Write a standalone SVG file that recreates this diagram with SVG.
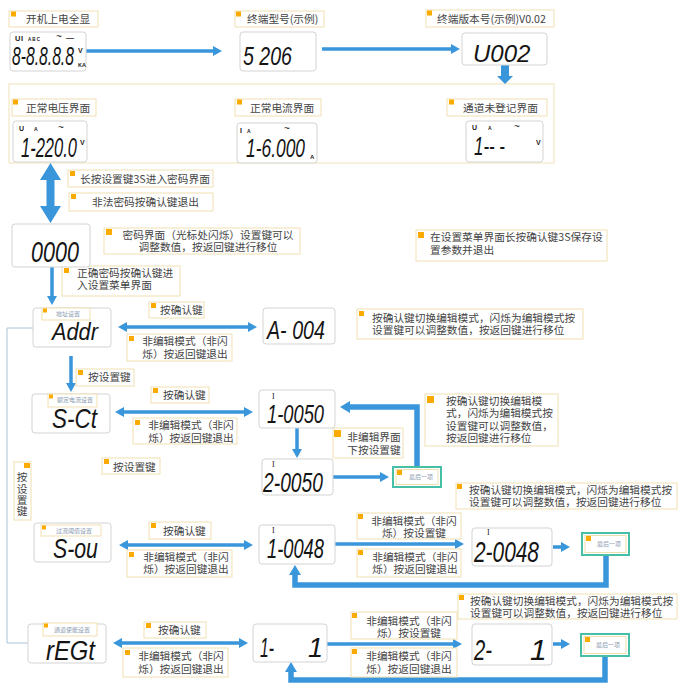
<svg xmlns="http://www.w3.org/2000/svg" width="678" height="684" viewBox="0 0 678 684">
<style>
.lb{fill:#fff;stroke:#efdfb0;stroke-width:1}
.sq{fill:#fbab00}
.dp{fill:#fff;stroke:#d3d3d3;stroke-width:1}
.fr{fill:none;stroke:#f0e2b8;stroke-width:1}
.t{font-family:"Noto Sans CJK SC","Liberation Sans",sans-serif;font-size:10.7px;fill:#444}
.tm{text-anchor:middle}
.vt{writing-mode:vertical-rl;letter-spacing:0.6px}
.tiny{font-family:"Noto Sans CJK SC",sans-serif;font-size:6px;fill:#8a9bb0;text-anchor:middle}
.lcd{font-family:"Liberation Sans",Arial,sans-serif;font-style:italic;fill:#151515}
.ann{font-family:"Liberation Sans",Arial,sans-serif;font-weight:bold;fill:#222}
.til{font-family:"Liberation Sans",Arial,sans-serif;fill:#222}
.ser{font-family:"Liberation Serif",serif;font-size:8px;fill:#222}
.ar{stroke:#3a96db;stroke-width:3.5;fill:none}
.arL{stroke:#3a96db;stroke-width:5.5;fill:none}
.fa{fill:#3a96db}
.br{stroke:#aac3d8;stroke-width:1;fill:none}
.tl{fill:#fff;stroke:#47bfa6;stroke-width:2}
</style>
<defs>
<marker id="ah" viewBox="0 0 9 10" refX="2" refY="5" markerWidth="9" markerHeight="10" markerUnits="userSpaceOnUse" orient="auto-start-reverse"><path d="M0,0 L9,5 L0,10 z" fill="#3a96db"/></marker>
<marker id="ahL" viewBox="0 0 10 12" refX="2" refY="6" markerWidth="10" markerHeight="12" markerUnits="userSpaceOnUse" orient="auto"><path d="M0,0 L10,6 L0,12 z" fill="#3a96db"/></marker>
</defs>
<rect width="678" height="684" fill="#fff"/>

<rect class="fr" x="9" y="84" width="545" height="79"/>

<g id="connectors">
<line class="ar" x1="86" y1="51" x2="215" y2="51" marker-end="url(#ah)"/>
<line class="ar" x1="322" y1="49" x2="453" y2="49" marker-end="url(#ah)"/>
<polygon class="fa" points="501,65 509,65 509,76 513,76 505,84 497,76 501,76"/>
<polygon class="fa" points="50.5,163 61,180 54.5,180 54.5,206 61,206 50.5,223 40,206 46.5,206 46.5,180 40,180"/>
<line class="ar" x1="52" y1="267" x2="52" y2="298" marker-end="url(#ah)"/>
<line class="ar" x1="125" y1="327" x2="250" y2="327" marker-start="url(#ah)" marker-end="url(#ah)"/>
<line class="ar" x1="71" y1="356" x2="71" y2="385" marker-end="url(#ah)"/>
<line class="ar" x1="122" y1="412" x2="246" y2="412" marker-start="url(#ah)" marker-end="url(#ah)"/>
<line class="ar" x1="297" y1="428" x2="297" y2="451" marker-end="url(#ah)"/>
<polyline class="arL" points="417,467 417,407 348,407" marker-end="url(#ahL)"/>
<line class="ar" x1="333" y1="477" x2="382" y2="477" marker-end="url(#ah)"/>
<line class="ar" x1="126" y1="545" x2="246" y2="545" marker-start="url(#ah)" marker-end="url(#ah)"/>
<line class="ar" x1="335" y1="544" x2="457" y2="544" marker-end="url(#ah)"/>
<line class="ar" x1="553" y1="547" x2="563" y2="547" marker-end="url(#ah)"/>
<polyline class="arL" points="606,555 606,585 295,585 295,573" marker-end="url(#ahL)"/>
<line class="ar" x1="120" y1="643" x2="241" y2="643" marker-start="url(#ah)" marker-end="url(#ah)"/>
<line class="ar" x1="327" y1="644" x2="455" y2="644" marker-end="url(#ah)"/>
<line class="ar" x1="553" y1="644" x2="563" y2="644" marker-end="url(#ah)"/>
<polyline class="arL" points="605,656 605,680 291,680 291,670" marker-end="url(#ahL)"/>
<polyline class="br" points="33,328 7,328 7,643 28,643"/>
</g>

<g id="lbl-poweron"><rect class="lb" x="9" y="11" width="89" height="16"/><rect class="sq" x="11" y="11.5" width="5" height="5"/><text class="t" x="26" y="23">开机上电全显</text></g>
<g id="lbl-model"><rect class="lb" x="235" y="11" width="89" height="16"/><rect class="sq" x="236" y="11.5" width="5" height="5"/><text class="t" x="247" y="23">终端型号(示例)</text></g>
<g id="lbl-version"><rect class="lb" x="426" y="10" width="128" height="17"/><rect class="sq" x="427" y="10.5" width="5" height="5"/><text class="t" x="437" y="23">终端版本号(示例)V0.02</text></g>
<g id="lbl-volt"><rect class="lb" x="12" y="99" width="84" height="17"/><rect class="sq" x="13" y="99.5" width="5" height="5"/><text class="t" x="26" y="112">正常电压界面</text></g>
<g id="lbl-curr"><rect class="lb" x="235" y="99" width="86" height="17"/><rect class="sq" x="237" y="99.5" width="5" height="5"/><text class="t" x="250" y="112">正常电流界面</text></g>
<g id="lbl-unreg"><rect class="lb" x="447" y="99" width="100" height="17"/><rect class="sq" x="449" y="99.5" width="5" height="5"/><text class="t" x="463" y="112">通道未登记界面</text></g>
<g id="lbl-longpress"><rect class="lb" x="68" y="170" width="145" height="17"/><rect class="sq" x="70" y="171" width="5" height="5"/><text class="t" x="80" y="183">长按设置键3S进入密码界面</text></g>
<g id="lbl-illegal"><rect class="lb" x="69" y="193" width="144" height="18"/><rect class="sq" x="71" y="194" width="5" height="5"/><text class="t" x="92" y="206">非法密码按确认键退出</text></g>
<g id="lbl-pwd"><rect class="lb" x="104" y="228" width="196" height="26"/><rect class="sq" x="106" y="229" width="6" height="6"/><text class="t tm" x="208" y="239">密码界面（光标处闪烁）设置键可以</text><text class="t tm" x="208" y="251">调整数值，按返回键进行移位</text></g>
<g id="lbl-correct"><rect class="lb" x="62" y="266" width="118" height="30"/><rect class="sq" x="64" y="268" width="5" height="5"/><text class="t" x="77" y="277">正确密码按确认键进</text><text class="t" x="77" y="289">入设置菜单界面</text></g>
<g id="lbl-save"><rect class="lb" x="416" y="230" width="191" height="31"/><rect class="sq" x="418" y="232" width="6" height="6"/><text class="t" x="430" y="241">在设置菜单界面长按确认键3S保存设</text><text class="t" x="430" y="254">置参数并退出</text></g>

<g id="lbl-ok1"><rect class="lb" x="149" y="302" width="55" height="16"/><rect class="sq" x="151" y="303" width="5" height="5"/><text class="t" x="160" y="314">按确认键</text></g>
<g id="lbl-back1"><rect class="lb" x="127" y="334" width="105" height="27"/><rect class="sq" x="129" y="336" width="5" height="5"/><text class="t tm" x="185" y="345">非编辑模式（非闪</text><text class="t tm" x="185" y="358">烁）按返回键退出</text></g>
<g id="lbl-edit1"><rect class="lb" x="357" y="309" width="226" height="30"/><rect class="sq" x="359" y="311" width="5" height="5"/><text class="t" x="372" y="322">按确认键切换编辑模式，闪烁为编辑模式按</text><text class="t" x="372" y="334">设置键可以调整数值，按返回键进行移位</text></g>
<g id="lbl-set1"><rect class="lb" x="76" y="369" width="58" height="17"/><rect class="sq" x="78" y="370" width="5" height="5"/><text class="t" x="88" y="381">按设置键</text></g>
<g id="lbl-ok2"><rect class="lb" x="151" y="387" width="58" height="16"/><rect class="sq" x="153" y="388" width="5" height="5"/><text class="t" x="163" y="399">按确认键</text></g>
<g id="lbl-back2"><rect class="lb" x="133" y="418" width="104" height="26"/><rect class="sq" x="135" y="420" width="5" height="5"/><text class="t tm" x="191" y="429">非编辑模式（非闪</text><text class="t tm" x="191" y="442">烁）按返回键退出</text></g>
<g id="lbl-edit2"><rect class="lb" x="425" y="394" width="133" height="52"/><rect class="sq" x="427" y="396" width="7" height="7"/><text class="t" x="446" y="405">按确认键切换编辑模</text><text class="t" x="446" y="417">式，闪烁为编辑模式按</text><text class="t" x="446" y="430">设置键可以调整数值，</text><text class="t" x="446" y="442">按返回键进行移位</text></g>
<g id="lbl-nonedit"><rect class="lb" x="333" y="428" width="70" height="30"/><rect class="sq" x="334" y="430" width="7" height="7"/><text class="t tm" x="374" y="441">非编辑界面</text><text class="t tm" x="374" y="454">下按设置键</text></g>
<g id="lbl-set2"><rect class="lb" x="102" y="458" width="58" height="16"/><rect class="sq" x="104" y="459" width="5" height="5"/><text class="t" x="113" y="471">按设置键</text></g>
<g id="lbl-set-vert"><rect class="lb" x="14" y="462" width="17" height="58"/><rect class="sq" x="24" y="463" width="6" height="5"/><text class="t vt" x="22" y="472">按设置键</text></g>
<g id="lbl-edit3"><rect class="lb" x="456" y="483" width="221" height="26"/><rect class="sq" x="457" y="484" width="5" height="5"/><text class="t" x="469" y="494">按确认键切换编辑模式，闪烁为编辑模式按</text><text class="t" x="469" y="506">设置键可以调整数值，按返回键进行移位</text></g>
<g id="lbl-ok3"><rect class="lb" x="149" y="522" width="62" height="17"/><rect class="sq" x="151" y="523" width="5" height="5"/><text class="t" x="163" y="535">按确认键</text></g>
<g id="lbl-back3"><rect class="lb" x="127" y="550" width="105" height="27"/><rect class="sq" x="129" y="552" width="5" height="5"/><text class="t tm" x="186" y="561">非编辑模式（非闪</text><text class="t tm" x="186" y="573">烁）按返回键退出</text></g>
<g id="lbl-next3"><rect class="lb" x="357" y="513" width="104" height="26"/><rect class="sq" x="358" y="514" width="5" height="5"/><text class="t tm" x="414" y="525">非编辑模式（非闪</text><text class="t tm" x="414" y="537">烁）按设置键</text></g>
<g id="lbl-back3b"><rect class="lb" x="357" y="549" width="104" height="28"/><rect class="sq" x="358" y="550" width="5" height="5"/><text class="t tm" x="415" y="561">非编辑模式（非闪</text><text class="t tm" x="415" y="573">烁）按返回键退出</text></g>
<g id="lbl-ok4"><rect class="lb" x="144" y="622" width="62" height="16"/><rect class="sq" x="146" y="623" width="5" height="5"/><text class="t" x="158" y="634">按确认键</text></g>
<g id="lbl-back4"><rect class="lb" x="123" y="648" width="105" height="29"/><rect class="sq" x="125" y="650" width="5" height="5"/><text class="t tm" x="181" y="660">非编辑模式（非闪</text><text class="t tm" x="181" y="673">烁）按返回键退出</text></g>
<g id="lbl-edit4"><rect class="lb" x="458" y="594" width="219" height="25"/><rect class="sq" x="459" y="595" width="5" height="5"/><text class="t" x="470" y="605">按确认键切换编辑模式，闪烁为编辑模式按</text><text class="t" x="470" y="617">设置键可以调整数值，按返回键进行移位</text></g>
<g id="lbl-next4"><rect class="lb" x="351" y="612" width="106" height="27"/><rect class="sq" x="352" y="613" width="5" height="5"/><text class="t tm" x="409" y="625">非编辑模式（非闪</text><text class="t tm" x="409" y="637">烁）按设置键</text></g>
<g id="lbl-back4b"><rect class="lb" x="351" y="648" width="106" height="29"/><rect class="sq" x="352" y="649" width="5" height="5"/><text class="t tm" x="409" y="660">非编辑模式（非闪</text><text class="t tm" x="409" y="673">烁）按返回键退出</text></g>

<g id="d-full"><rect class="dp" x="10" y="32" width="76" height="39" rx="3"/>
<text class="ann" x="15" y="41" font-size="7.5">U</text><text class="ann" x="21" y="41" font-size="7.5">I</text><text class="ann" x="28" y="41" font-size="4.5">A B C</text><text class="til" x="56" y="40" font-size="10">~</text><text class="ann" x="66" y="39.5" font-size="8">—</text>
<text class="lcd" transform="translate(12,65) scale(0.604,1)" font-size="26">8-8.8.8.8</text>
<text class="ann" x="78" y="53" font-size="7">V</text><text class="ann" x="78" y="67" font-size="5.5">KA</text></g>
<g id="d-model"><rect class="dp" x="240" y="32" width="76" height="39" rx="3"/><text class="lcd" transform="translate(243,65) scale(0.783,1)" font-size="25">5 206</text></g>
<g id="d-version"><rect class="dp" x="462" y="33" width="85" height="32" rx="3"/><text class="lcd" transform="translate(473,62) scale(1.0,1)" font-size="24">U002</text></g>
<g id="d-volt"><rect class="dp" x="13" y="121" width="74" height="41" rx="3"/>
<text class="ann" x="19" y="131" font-size="7">U</text><text class="ann" x="34" y="131" font-size="5">A</text><text class="til" x="58" y="130.5" font-size="10">~</text>
<text class="lcd" transform="translate(21,157) scale(0.611,1)" font-size="27">1-220.0</text><text class="ann" x="80" y="145" font-size="7">V</text></g>
<g id="d-curr"><rect class="dp" x="237" y="123" width="80" height="40" rx="3"/>
<text class="ann" x="240" y="132.5" font-size="7">I</text><text class="ann" x="247" y="132.5" font-size="5">A</text><text class="til" x="284" y="132" font-size="10">~</text>
<text class="lcd" transform="translate(246,157) scale(0.669,1)" font-size="26">1-6.000</text><text class="ann" x="310" y="159" font-size="6">A</text></g>
<g id="d-unreg"><rect class="dp" x="466" y="121" width="77" height="41" rx="3"/>
<text class="ann" x="472" y="130" font-size="7">U</text><text class="ann" x="488" y="130" font-size="5">A</text><text class="til" x="514" y="130" font-size="10">~</text>
<text class="lcd" transform="translate(474,155) scale(0.677,1)" font-size="25">1-- -</text><text class="ann" x="536" y="145" font-size="7">V</text></g>
<g id="d-pwd"><rect class="dp" x="12" y="224" width="78" height="43" rx="3"/><text class="lcd" transform="translate(31,262) scale(0.72,1)" font-size="30">0000</text></g>

<g id="d-addr"><rect class="dp" x="33" y="308" width="78" height="39" rx="3"/><rect class="lb" x="42" y="308" width="48" height="12"/><rect class="sq" x="43" y="308.5" width="4" height="4"/><text class="tiny" x="68" y="315.5">地址设置</text>
<text class="lcd" transform="translate(52,340) scale(0.907,1)" font-size="24">Addr</text></g>
<g id="d-a004"><rect class="dp" x="263" y="308" width="72" height="36" rx="3"/><text class="lcd" transform="translate(267,339) scale(0.757,1)" font-size="26">A- 004</text></g>
<g id="d-sct"><rect class="dp" x="32" y="394" width="78" height="39" rx="3"/><rect class="lb" x="48" y="394" width="49" height="13"/><rect class="sq" x="49" y="394.5" width="4" height="4"/><text class="tiny" x="75" y="402">额定电流设置</text>
<text class="lcd" transform="translate(52,428) scale(0.833,1)" font-size="27">S-Ct</text></g>
<g id="d-10050"><rect class="dp" x="259" y="390" width="76" height="38" rx="3"/><text class="ser" x="272" y="399">I</text><text class="lcd" transform="translate(267,423) scale(0.733,1)" font-size="25">1-0050</text></g>
<g id="d-20050"><rect class="dp" x="262" y="459" width="71" height="36" rx="3"/><text class="ser" x="272" y="466.5">I</text><text class="lcd" transform="translate(263,492) scale(0.714,1)" font-size="27">2-0050</text></g>
<g id="d-last1"><rect class="tl" x="393" y="467" width="48" height="20"/><rect class="lb" x="396" y="469.5" width="42" height="15"/><rect class="sq" x="397" y="470" width="5" height="5"/><text class="tiny" x="421" y="479">最后一项</text></g>

<g id="d-sou"><rect class="dp" x="34" y="523" width="77" height="39" rx="3"/><rect class="lb" x="41" y="525" width="60" height="11"/><rect class="sq" x="42" y="525.5" width="4" height="4"/><text class="tiny" x="74" y="532.5">过流阈值设置</text>
<text class="lcd" transform="translate(53,558) scale(0.789,1)" font-size="27">S-ou</text></g>
<g id="d-10048"><rect class="dp" x="259" y="525" width="76" height="39" rx="3"/><text class="ser" x="272" y="533">I</text><text class="lcd" transform="translate(267,558) scale(0.678,1)" font-size="27">1-0048</text></g>
<g id="d-20048"><rect class="dp" x="472" y="528" width="80" height="38" rx="3"/><text class="ser" x="487" y="534.5">I</text><text class="lcd" transform="translate(474,562) scale(0.696,1)" font-size="30">2-0048</text></g>
<g id="d-last2"><rect class="tl" x="582" y="533" width="47" height="22"/><rect class="lb" x="585" y="535.5" width="41" height="17"/><rect class="sq" x="586" y="536" width="5" height="5"/><text class="tiny" x="609" y="546">最后一项</text></g>

<g id="d-regt"><rect class="dp" x="28" y="624" width="78" height="39" rx="3"/><rect class="lb" x="43" y="623" width="54" height="13"/><rect class="sq" x="44" y="623.5" width="4" height="4"/><text class="tiny" x="72" y="632">通道使能设置</text>
<text class="lcd" transform="translate(46,660) scale(0.883,1)" font-size="27">rEGt</text></g>
<g id="d-1-1"><rect class="dp" x="253" y="624" width="74" height="38" rx="3"/><text class="lcd" transform="translate(260,657) scale(0.583,1)" font-size="27">1-</text><text class="lcd" x="308" y="657" font-size="27">1</text></g>
<g id="d-2-1"><rect class="dp" x="472" y="624" width="80" height="41" rx="3"/><text class="lcd" transform="translate(474,660) scale(0.675,1)" font-size="30">2-</text><text class="lcd" x="530" y="660" font-size="30">1</text></g>
<g id="d-last3"><rect class="tl" x="581" y="634" width="48" height="22"/><rect class="lb" x="584" y="636.5" width="42" height="17"/><rect class="sq" x="585" y="637" width="5" height="5"/><text class="tiny" x="608" y="647">最后一项</text></g>
</svg>
